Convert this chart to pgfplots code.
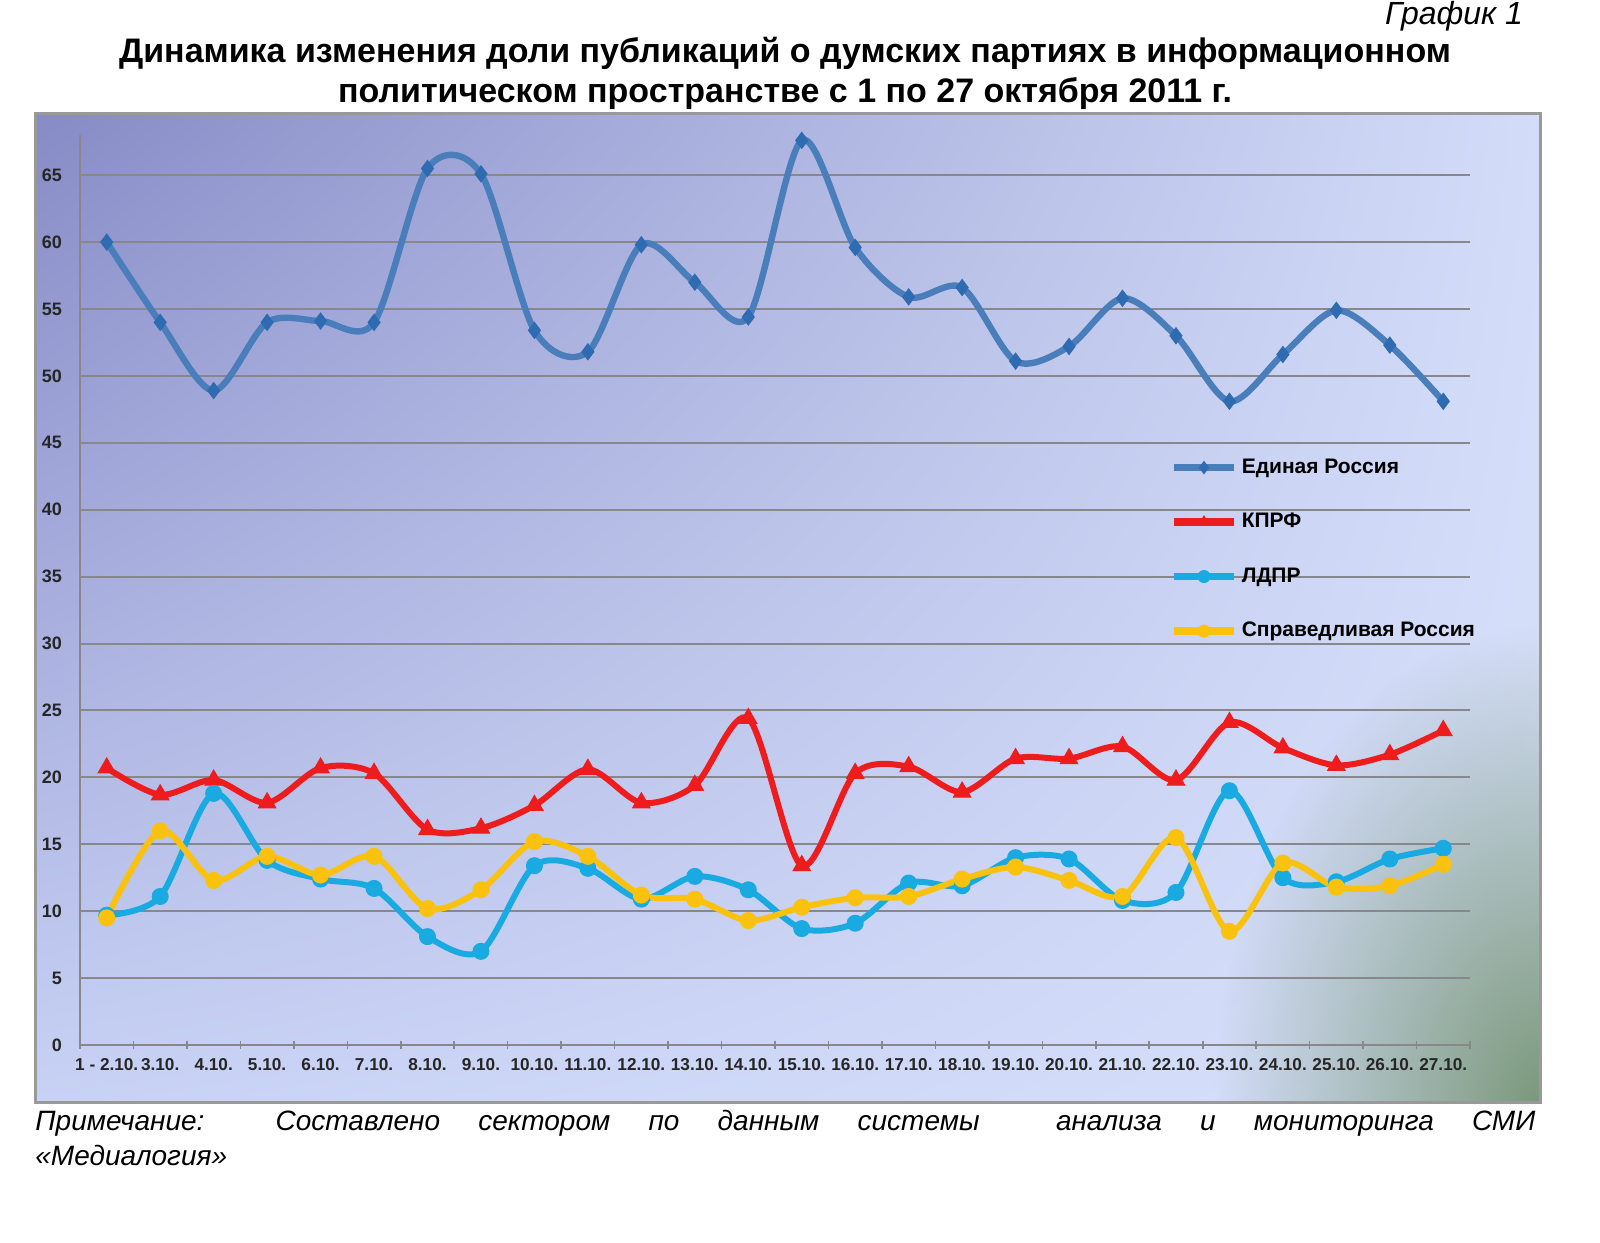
\documentclass[border=0pt]{standalone}
\usepackage{pgfplots}
\usepackage{pgfplotstable}
\pgfplotsset{compat=1.18}
\usetikzlibrary{shadings,fadings}
\usepackage{fontspec}
\setmainfont{Liberation Sans}
\definecolor{erblue}{HTML}{4A7EBB}
\definecolor{ermark}{HTML}{2E6BB0}
\definecolor{kred}{HTML}{EE1C1C}
\definecolor{lcyan}{HTML}{1AAAE2}
\definecolor{syellow}{HTML}{FAC20E}
\definecolor{gridc}{RGB}{135,135,140}
\definecolor{bgUL}{HTML}{878BC6}
\definecolor{bgUR}{HTML}{D3DDF9}
\definecolor{bgLL}{HTML}{C8D2F5}
\definecolor{bgLR}{HTML}{D7E0FA}
\definecolor{greenc}{HTML}{7A987A}
\tikzfading[name=cornerfade, inner color=transparent!0, outer color=transparent!100]

\pgfplotstableread{
x er kprf ldpr sr
0  60.0 20.7 9.7  9.5
1  54.0 18.7 11.1 16.0
2  48.9 19.8 18.8 12.3
3  54.0 18.1 13.8 14.1
4  54.1 20.7 12.4 12.7
5  54.0 20.3 11.7 14.1
6  65.5 16.1 8.1  10.2
7  65.1 16.2 7.0  11.6
8  53.4 17.9 13.4 15.2
9  51.8 20.6 13.2 14.1
10 59.8 18.1 10.9 11.2
11 57.0 19.4 12.6 10.9
12 54.4 24.4 11.6 9.3
13 67.6 13.4 8.7  10.3
14 59.6 20.3 9.1  11.0
15 55.9 20.8 12.1 11.1
16 56.6 18.9 11.9 12.4
17 51.1 21.4 14.0 13.3
18 52.2 21.4 13.9 12.3
19 55.8 22.3 10.8 11.1
20 53.0 19.8 11.4 15.5
21 48.1 24.1 19.0 8.5
22 51.6 22.2 12.5 13.6
23 54.9 20.9 12.2 11.8
24 52.3 21.7 13.9 11.9
25 48.1 23.5 14.7 13.5
}\datatable

\begin{document}
\begin{tikzpicture}
% background frame
\shade[upper left=bgUL, upper right=bgUR, lower left=bgLL, lower right=bgLR]
  (17.5pt,-56.5pt) rectangle (770pt,-551pt);
\begin{scope}
\clip (17.5pt,-56.5pt) rectangle (770pt,-551pt);
\fill[greenc, path fading=cornerfade] (772pt,-553pt) ellipse (165pt and 240pt);
\end{scope}
\draw[gray!80, line width=1.5pt] (17.5pt,-56.5pt) rectangle (770pt,-551pt);

% titles
\node[anchor=base east, font=\itshape\fontsize{16}{18}\selectfont] at (765pt,-12.5pt) {График 1};
\node[anchor=base, font=\bfseries\fontsize{17}{19}\selectfont] at (392.5pt,-31pt)
  {Динамика изменения доли публикаций о думских партиях в информационном};
\node[anchor=base, font=\bfseries\fontsize{17}{19}\selectfont] at (392.5pt,-51pt)
  {политическом пространстве с 1 по 27 октября 2011 г.};

% note
\node[anchor=base west, inner sep=0pt, font=\itshape\fontsize{14}{16}\selectfont] at (17.5pt,-565pt)
  {\makebox[750pt][s]{Примечание: Составлено сектором по данным системы\ \ анализа и мониторинга СМИ}};
\node[anchor=base west, inner sep=0pt, font=\itshape\fontsize{14}{16}\selectfont] at (17.5pt,-582.5pt)
  {«Медиалогия»};

\begin{axis}[
  at={(40pt,-522.5pt)}, anchor=south west,
  scale only axis, width=695pt, height=455pt,
  xmin=-0.5, xmax=25.5, ymin=0, ymax=68,
  clip=false,
  axis x line=bottom, axis y line=left,
  axis line style={-, gridc, line width=1pt},
  xtick=data,
  xticklabels={1 - 2.10., 3.10., 4.10., 5.10., 6.10., 7.10., 8.10., 9.10., 10.10., 11.10., 12.10., 13.10., 14.10., 15.10., 16.10., 17.10., 18.10., 19.10., 20.10., 21.10., 22.10., 23.10., 24.10., 25.10., 26.10., 27.10.},
  minor xtick={-0.5,0.5,...,25.5},
  ytick={0,5,...,65},
  ymajorgrids,
  grid style={gridc, line width=1pt},
  major tick length=0pt,
  minor tick length=4pt,
  tick align=center,
  minor tick style={gridc, line width=0.8pt},
  major tick style={draw=none},
  /pgf/number format/assume math mode=true,
  xticklabel style={font=\bfseries\fontsize{8.6}{10}\selectfont, text=black!85, yshift=-3pt},
  yticklabel style={font=\bfseries\fontsize{9}{10}\selectfont, text=black!85, xshift=-5.5pt},
  legend style={at={(0.784,0.649)}, anchor=north west, draw=none, fill=none,
    font=\bfseries\fontsize{10.5}{12}\selectfont, row sep=14.5pt, inner sep=0pt,
    /tikz/every even column/.append style={column sep=2pt}},
  legend cell align=left,
  legend image code/.code={%
    \draw[mark repeat=2, mark phase=2, #1, line width=3.8pt, mark size=3pt] plot coordinates {(0pt,0pt) (15pt,0pt) (30pt,0pt)};},
]
\addplot[erblue, line width=3.2pt, smooth, mark=diamond*, mark size=4pt,
  mark options={ermark, line width=0.5pt, solid}] table[x=x, y=er] {\datatable};
\addlegendentry{Единая Россия}
\addplot[kred, line width=3pt, smooth, mark=triangle*, mark size=5pt,
  mark options={kred, line width=0.5pt, solid}] table[x=x, y=kprf] {\datatable};
\addlegendentry{КПРФ}
\addplot[lcyan, line width=3pt, smooth, mark=*, mark size=4pt,
  mark options={lcyan, line width=0.5pt, solid}] table[x=x, y=ldpr] {\datatable};
\addlegendentry{ЛДПР}
\addplot[syellow, line width=3pt, smooth, mark=*, mark size=4pt,
  mark options={syellow, line width=0.5pt, solid}] table[x=x, y=sr] {\datatable};
\addlegendentry{Справедливая Россия}
\end{axis}
\pgfresetboundingbox
\useasboundingbox (0,0) rectangle (800pt,-621pt);
\end{tikzpicture}
\end{document}
